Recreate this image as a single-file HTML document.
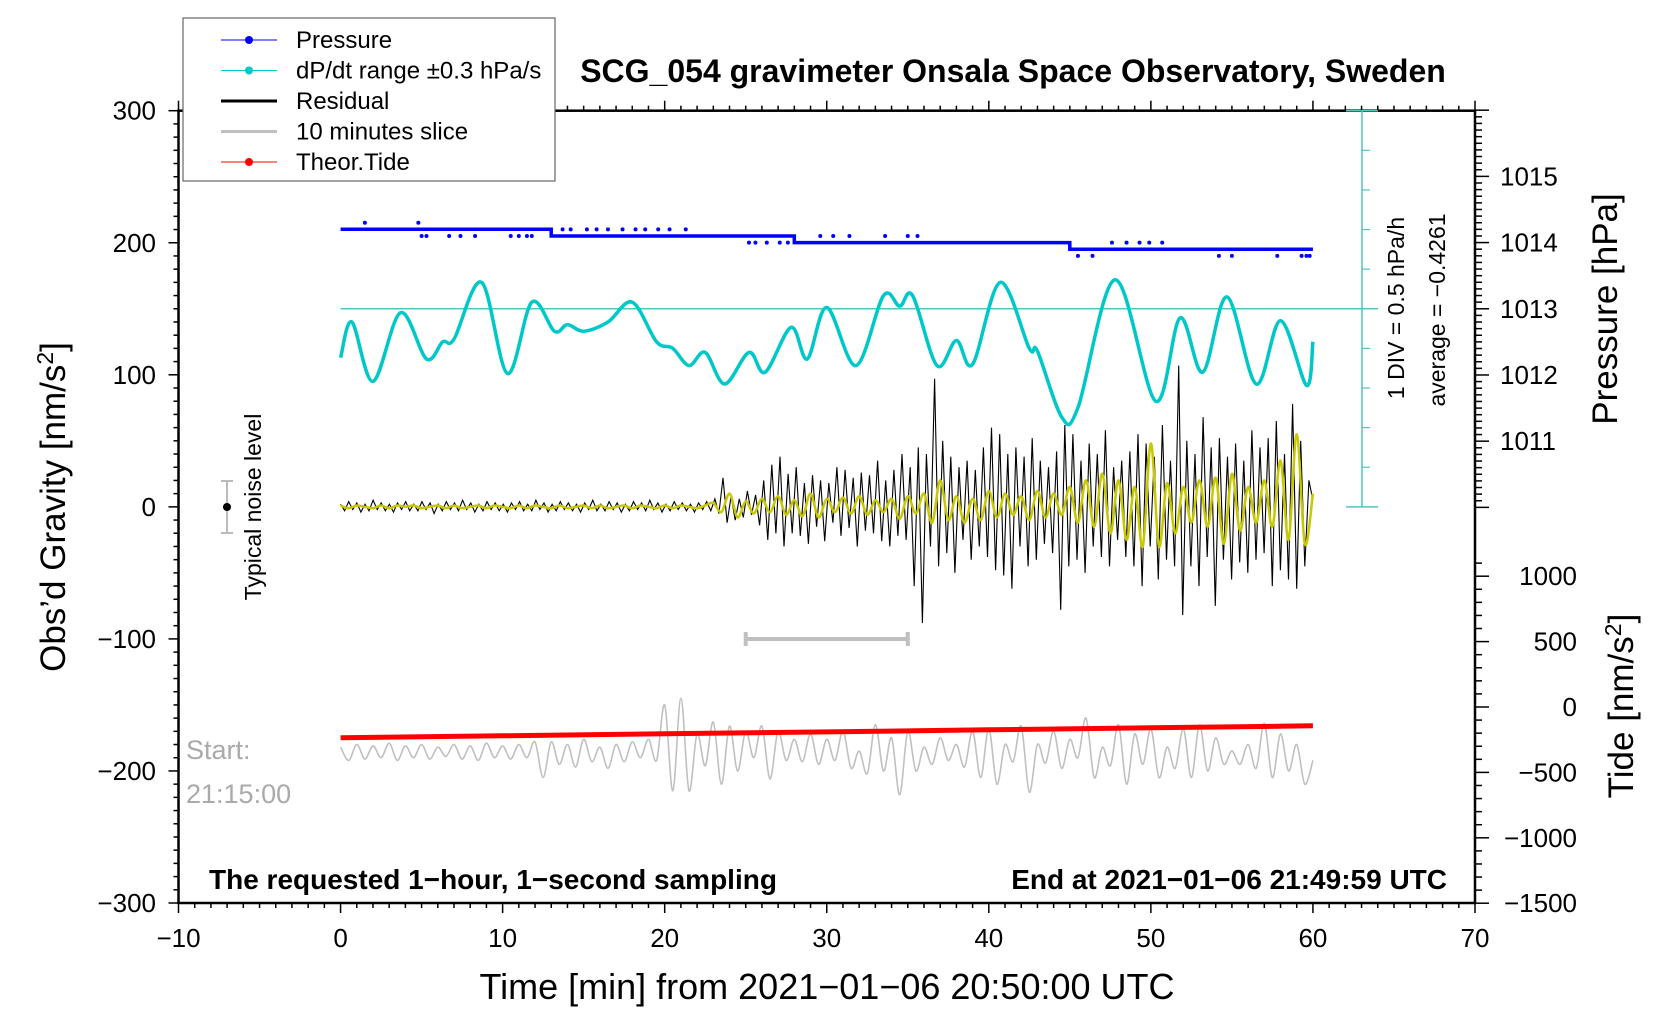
<!DOCTYPE html>
<html><head><meta charset="utf-8">
<style>
html,body{margin:0;padding:0;background:#fff;}
svg{display:block;font-family:"Liberation Sans",sans-serif;}
</style></head>
<body>
<svg id="chart" width="1676" height="1020" viewBox="0 0 1676 1020" xmlns="http://www.w3.org/2000/svg">
<g id="layer"></g>
</svg>
<script>
// ---- data ----
const xTicks = [-10,0,10,20,30,40,50,60,70];
const gravTicks = [300,200,100,0,-100,-200,-300];
const presTicks = [1011,1012,1013,1014,1015];
const tideTicks = [1000,500,0,-500,-1000,-1500];
const presTimes = [0,13,13,28,28,45,45,60];
const presVals = [1014.2,1014.2,1014.1,1014.1,1014.0,1014.0,1013.9,1013.9];
const presDotTimes = [1.5,4.8,5,5.3,6.7,7.4,8.3,10.5,11,11.5,11.8,13.7,14.2,15.2,15.8,16.5,17.4,18.2,18.8,19.6,20.3,21.3,25.2,25.6,26.3,27.1,27.6,29.6,30.4,31.4,33.6,35.0,35.6,45.5,46.4,47.6,48.5,49.3,49.9,50.7,54.2,55.0,57.8,59.3,59.6,59.8];
const presDotVals = [1014.3,1014.3,1014.1,1014.1,1014.1,1014.1,1014.1,1014.1,1014.1,1014.1,1014.1,1014.2,1014.2,1014.2,1014.2,1014.2,1014.2,1014.2,1014.2,1014.2,1014.2,1014.2,1014.0,1014.0,1014.0,1014.0,1014.0,1014.1,1014.1,1014.1,1014.1,1014.1,1014.1,1013.8,1013.8,1014.0,1014.0,1014.0,1014.0,1014.0,1013.8,1013.8,1013.8,1013.8,1013.8,1013.8];
const dpTimes = [0,0.7,2,3.7,5.3,6.3,7,8.7,10.3,11.8,13.2,14,15,16.5,18,19.5,20.5,21.5,22.5,23.7,25.2,26.2,27.8,28.8,30,31.8,33.5,34.5,35.3,36.8,38,39,40.7,42.5,43,44.5,45.5,47.8,50.3,51.8,53.2,54.7,56.5,58,59.6,60];
const dpVals = [113,140,95,147,112,125,127,170,101,155,133,138,133,140,155,125,120,107,117,93,117,102,136,112,151,107,160,152,160,107,126,108,170,120,118,68,75,172,80,143,102,159,93,141,92,125];
const residual = [2,-3,4,-2,3,-4,2,-3,5,-2,3,-3,2,-4,3,-2,4,-3,2,-3,4,-2,3,-5,2,-3,4,-2,3,-3,5,-2,3,-4,2,-3,4,-2,3,-3,2,-4,3,-2,4,-3,2,-3,5,-2,3,-4,2,-3,4,-2,3,-3,2,-4,3,-2,5,-3,2,-3,4,-2,3,-4,2,-3,4,-2,3,-3,5,-2,3,-4,2,-3,4,-2,3,-3,2,-4,3,-2,4,-3,
6,-5,22,-12,8,-10,6,-8,12,-6,9,-14,20,-25,32,-20,
38,-30,25,-20,30,-22,18,-28,24,-15,20,-26,18,-12,30,-22,28,-16,22,-30,26,-18,24,-20,35,-26,20,-30,28,-22,40,-25,30,-60,45,-88,
40,-30,97,-45,50,-35,38,-50,30,-25,35,-40,28,-30,45,-38,60,-48,55,-52,40,-62,45,-30,38,-45,52,-40,35,-28,30,-35,42,-78,62,-45,55,-40,35,-50,48,-30,40,-38,58,-45,30,-25,
35,-38,42,-45,55,-60,48,-30,38,-55,62,-40,35,-45,107,-82,50,-45,40,-60,68,-38,45,-75,52,-40,38,-55,48,-42,35,-50,58,-40,45,-35,52,-60,65,-48,40,-55,78,-62,50,-45,20,5];
const filtered = [1,-1,1,0,-1,1,-1,1,0,1,-1,0,1,-1,1,-1,0,1,-1,1,0,-1,1,-1,1,0,-1,1,-1,0,1,-1,1,-1,0,1,-1,1,0,-1,1,-1,1,0,-1,1,
3,-4,10,-8,4,-5,6,-4,8,-6,5,-7,10,-8,6,-4,7,-5,8,-6,5,-4,6,-9,8,-5,
10,-12,20,-10,8,-12,6,-10,12,-8,10,-6,8,-10,12,-8,10,-6,15,-12,20,-15,25,-20,
20,-25,15,-30,48,-30,18,-20,15,-12,20,-15,22,-28,25,-18,15,-12,20,-15,35,-25,55,-28,10];
const slice = [-182,-192,-180,-191,-181,-190,-179,-192,-181,-190,-180,-191,-182,-189,-180,-191,-181,-192,-179,-190,-181,-191,-180,-190,
-178,-205,-178,-195,-180,-197,-176,-193,-182,-198,-180,-193,-178,-190,-176,-192,
-150,-215,-145,-215,-172,-196,-163,-210,-166,-200,-170,-190,-166,-206,-170,-192,-176,-193,-172,-195,
-176,-192,-170,-198,-185,-202,-165,-200,-175,-218,-170,-200,-182,-195,-175,-192,-180,-197,-170,-205,
-168,-210,-180,-193,-166,-216,-180,-194,-170,-198,-176,-190,-160,-205,-182,-196,-165,-210,-172,-195,
-168,-205,-182,-198,-168,-205,-165,-200,-175,-195,-185,-195,-180,-198,-164,-205,-172,-200,-180,-210,-192];
const tideTimes = [0,10,20,30,40,50,60];
const tideVals = [-235,-220,-205,-190,-174,-159,-144];

// ---- scales ----
const X0=178.5, X1=1475, Y0=110.7, Y1=903;
const xs = m => X0 + (m+10)*(X1-X0)/80;
const yg = g => Y0 + (300-g)*(Y1-Y0)/600;
const yp = p => yg(150) - (p-1013)*66.2;
const yt = t => 707 - t*0.1308;

const NS="http://www.w3.org/2000/svg";
const layer=document.getElementById('layer');
function mk(tag,attrs,parent){const e=document.createElementNS(NS,tag);for(const k in attrs)e.setAttribute(k,attrs[k]);(parent||layer).appendChild(e);return e;}
function txt(s,x,y,attrs){const e=mk('text',Object.assign({x:x,y:y},attrs));e.textContent=s;return e;}
function poly(pts){return pts.map(p=>p[0].toFixed(1)+','+p[1].toFixed(1)).join(' ');}
function smoothPath(pts){let d='M'+pts[0][0]+','+pts[0][1];for(let i=0;i<pts.length-1;i++){const p0=pts[Math.max(0,i-1)],p1=pts[i],p2=pts[i+1],p3=pts[Math.min(pts.length-1,i+2)];const c1=[p1[0]+(p2[0]-p0[0])/6,p1[1]+(p2[1]-p0[1])/6],c2=[p2[0]-(p3[0]-p1[0])/6,p2[1]-(p3[1]-p1[1])/6];d+=` C${c1[0].toFixed(1)},${c1[1].toFixed(1)} ${c2[0].toFixed(1)},${c2[1].toFixed(1)} ${p2[0].toFixed(1)},${p2[1].toFixed(1)}`;}return d;}

// frame
let e;
e=mk('rect',{x:X0,y:Y0,width:X1-X0,height:Y1-Y0,fill:'none',stroke:'#000','stroke-width':2.5});



// x ticks
for(let m=-10;m<=70;m++){
  const major = m%10===0, len = major?10:5;
  mk('line',{x1:xs(m),x2:xs(m),y1:Y1,y2:Y1+len,stroke:'#000','stroke-width':1.5});
  mk('line',{x1:xs(m),x2:xs(m),y1:Y0,y2:Y0-len,stroke:'#000','stroke-width':1.5});
}
xTicks.forEach(v=>{e=txt(String(v).replace('-','−'),xs(v),947,{'font-size':26,'text-anchor':'middle'});

});
// left ticks
for(let g=-300;g<=300;g+=10){const major=g%100===0;mk('line',{x1:X0,x2:X0-(major?10:5),y1:yg(g),y2:yg(g),stroke:'#000','stroke-width':1.5});}
gravTicks.forEach(v=>{e=txt(String(v).replace('-','−'),156,yg(v)+9,{'font-size':26,'text-anchor':'end'});

});
// right pressure ticks
for(let p=1010.0;p<=1016.2;p+=0.1){const y=yp(p);if(y<Y0-1||y>530)continue;const major=Math.abs(p-Math.round(p))<0.01;mk('line',{x1:X1,x2:X1+(major?14:7),y1:y,y2:y,stroke:'#000','stroke-width':1.5});}
presTicks.forEach(v=>{e=txt(String(v),1500,yp(v)+9,{'font-size':26});

});
// right tide ticks
for(let t=-1500;t<=1100;t+=100){const y=yt(t);if(y<545||y>Y1+1)continue;const major=t%500===0;mk('line',{x1:X1,x2:X1+(major?14:7),y1:y,y2:y,stroke:'#000','stroke-width':1.5});}
tideTicks.forEach(v=>{e=txt(String(v).replace('-','−'),1577,yt(v)+9,{'font-size':26,'text-anchor':'end'});

});

// axis titles
e=txt('Time [min] from 2021−01−06 20:50:00 UTC',827,999,{'font-size':36,'text-anchor':'middle'});


e=mk('text',{x:0,y:0,'font-size':35,'text-anchor':'middle',transform:'translate(65,507) rotate(-90)'});
e.innerHTML='Obs’d Gravity [nm/s<tspan dy="-12" font-size="23">2</tspan><tspan dy="12">]</tspan>';


e=txt('Pressure [hPa]',0,0,{'font-size':35,'text-anchor':'middle',transform:'translate(1617,309) rotate(-90)'});


e=mk('text',{x:0,y:0,'font-size':35,'text-anchor':'middle',transform:'translate(1633,706) rotate(-90)'});
e.innerHTML='Tide [nm/s<tspan dy="-12" font-size="23">2</tspan><tspan dy="12">]</tspan>';


e=txt('SCG_054 gravimeter Onsala Space Observatory, Sweden',1013,82,{'font-size':32,'font-weight':'bold','text-anchor':'middle'});



// cyan scale bar
const cy='#55c4c0';
mk('line',{x1:1362,x2:1362,y1:Y0,y2:yg(0),stroke:cy,'stroke-width':1.5});
for(let k=0;k<=10;k++){const y=Y0+k*(yg(0)-Y0)/10;if(k===0||k===10)mk('line',{x1:1346,x2:1378,y1:y,y2:y,stroke:cy,'stroke-width':1.5});else mk('line',{x1:1362,x2:1370,y1:y,y2:y,stroke:cy,'stroke-width':1.2});}
e=mk('line',{x1:xs(0),x2:1378,y1:yg(150),y2:yg(150),stroke:cy,'stroke-width':1.5});


e=txt('1 DIV = 0.5 hPa/h',0,0,{'font-size':23,'text-anchor':'middle',transform:'translate(1404,308) rotate(-90)'});


e=txt('average = −0.4261',0,0,{'font-size':23,'text-anchor':'middle',transform:'translate(1445,310) rotate(-90)'});



// pressure
e=mk('polyline',{points:poly(presTimes.map((t,i)=>[xs(t),yp(presVals[i])])),fill:'none',stroke:'#0000ff','stroke-width':3.5});


presDotTimes.forEach((t,i)=>{e=mk('circle',{cx:xs(t),cy:yp(presDotVals[i]),r:2,fill:'#0000ff'});

});

// dP/dt
e=mk('path',{d:smoothPath(dpTimes.map((t,i)=>[xs(t),yg(dpVals[i])])),fill:'none',stroke:'#00c8c8','stroke-width':3.5});



// residual
e=mk('polyline',{points:poly(residual.map((v,i)=>[xs(i*60/(residual.length-1)),yg(v)])),fill:'none',stroke:'#000','stroke-width':1.1});


e=mk('path',{d:smoothPath(filtered.map((v,i)=>[xs(i*60/(filtered.length-1)),yg(v)])),fill:'none',stroke:'#c8c800','stroke-width':2.5});



// slice
e=mk('path',{d:smoothPath(slice.map((v,i)=>[xs(i*60/(slice.length-1)),yg(v)])),fill:'none',stroke:'#c0c0c0','stroke-width':1.6});


// tide
e=mk('polyline',{points:poly(tideTimes.map((t,i)=>[xs(t),yt(tideVals[i])])),fill:'none',stroke:'#ff0000','stroke-width':5});



// slice bar
e=mk('g',{stroke:'#c0c0c0','stroke-width':4});


mk('line',{x1:xs(25),x2:xs(35),y1:639,y2:639},e);
mk('line',{x1:xs(25),x2:xs(25),y1:632,y2:646},e);
mk('line',{x1:xs(35),x2:xs(35),y1:632,y2:646},e);

// noise level
e=mk('g',{});


mk('line',{x1:227,x2:227,y1:481,y2:533,stroke:'#bbb','stroke-width':2},e);
mk('line',{x1:221,x2:233,y1:481,y2:481,stroke:'#bbb','stroke-width':2},e);
mk('line',{x1:221,x2:233,y1:533,y2:533,stroke:'#bbb','stroke-width':2},e);
mk('circle',{cx:227,cy:507,r:4,fill:'#000'},e);
e=txt('Typical noise level',0,0,{'font-size':23,'text-anchor':'middle',transform:'translate(261,507) rotate(-90)'});



e=txt('Start:',186,759,{'font-size':27,fill:'#aaa'});


e=txt('21:15:00',186,803,{'font-size':27,fill:'#aaa'});


e=txt('The requested 1−hour, 1−second sampling',209,889,{'font-size':28,'font-weight':'bold'});


e=txt('End at 2021−01−06 21:49:59 UTC',1447,889,{'font-size':28,'font-weight':'bold','text-anchor':'end'});



// legend
const lg=mk('g',{});


mk('rect',{x:183,y:18,width:372,height:163,fill:'#fff',stroke:'#666','stroke-width':1.2},lg);
const legNames=['Pressure','dP/dt range ±0.3 hPa/s','Residual','10 minutes slice','Theor.Tide'];
const legCols=['#0000ff','#00c8c8','#000','#c0c0c0','#ff0000'];
const legDot=[true,true,false,false,true];
legNames.forEach((n,i)=>{
  const y=40+i*30.5;
  const g=mk('g',{},lg);
  
  
  mk('line',{x1:221,x2:277,y1:y,y2:y,stroke:legCols[i],'stroke-width':legDot[i]?1:3},g);
  if(legDot[i])mk('circle',{cx:249,cy:y,r:4,fill:legCols[i]},g);
  const t=mk('text',{x:296,y:y+8,'font-size':24},g);t.textContent=n;
});
</script>
</body></html>
